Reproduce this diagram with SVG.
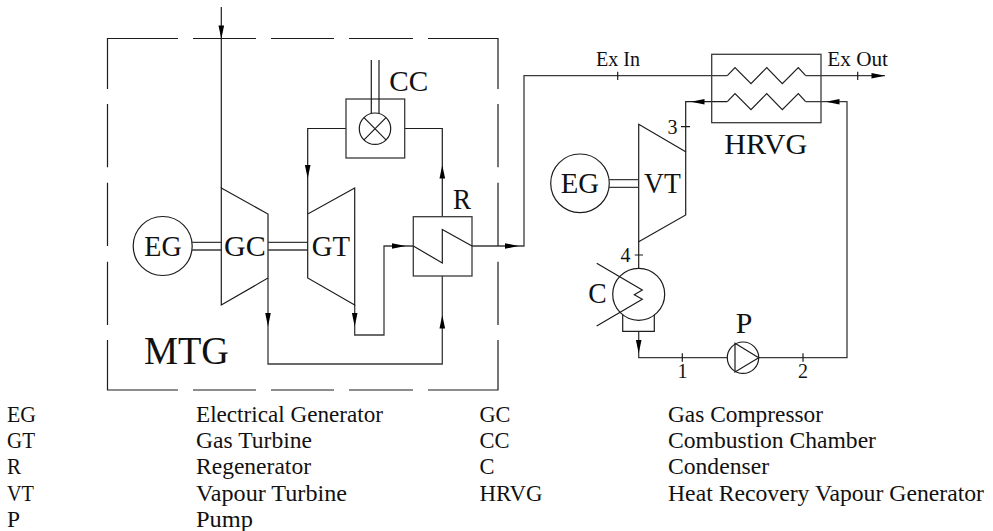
<svg xmlns="http://www.w3.org/2000/svg" xmlns:xlink="http://www.w3.org/1999/xlink" width="993" height="531" viewBox="0 0 993 531">
<style>
.l{fill:none;stroke:#1c1c1c;stroke-width:1.2}
.g{fill:none;stroke:#3a3a3a;stroke-width:1.3}
text{font-family:"Liberation Serif","Times New Roman",serif;fill:#111}
.lg{font-size:22.5px}
.big{font-size:29px}
.med{font-size:20px}
.ar{fill:#000}
</style>
<defs><path id="a" class="ar" d="M0 0L-13.5-2.8L-13.5 2.8Z"/></defs>
<rect width="993" height="531" fill="#fff"/>
<g id="connectors">
<path class="l" d="M221.3 7V188"/>
<path class="l" d="M346 128.5H307.7V214"/>
<path class="l" d="M404.7 128.5H442.3V216.7"/>
<path class="g" d="M354.7 305V335H384V246H413.3"/>
<path class="g" d="M268 278V364H442.3V276"/>
<path class="g" d="M472 246H524V75.7H727.3"/>
<path class="g" d="M805.7 75.7H885"/>
<path class="g" d="M805.7 101.7H847V357.7H758.7"/>
<path class="l" d="M727.3 101.7H685.7V151.7"/>
<path class="l" d="M638.7 241.7V268.3"/>
<path class="g" d="M638.7 331.3V357.7H727.3"/>
<path class="l" d="M617.7 71.7V80M857.7 71.7V80M681 126.7H690M634.7 255H643M682.3 353.3V361.7M803 353.3V361.7"/>
<use xlink:href="#a" href="#a" transform="translate(221.3 39) rotate(90)"/>
<use xlink:href="#a" href="#a" transform="translate(307.7 178.5) rotate(90)"/>
<use xlink:href="#a" href="#a" transform="translate(442.3 165) rotate(-90)"/>
<use xlink:href="#a" href="#a" transform="translate(405.5 246)"/>
<use xlink:href="#a" href="#a" transform="translate(354.7 326.5) rotate(90)"/>
<use xlink:href="#a" href="#a" transform="translate(268 326.5) rotate(90)"/>
<use xlink:href="#a" href="#a" transform="translate(442.3 315) rotate(-90)"/>
<use xlink:href="#a" href="#a" transform="translate(518.5 246)"/>
<use xlink:href="#a" href="#a" transform="translate(885 75.7)"/>
<use xlink:href="#a" href="#a" transform="translate(826 101.7) rotate(180)"/>
<use xlink:href="#a" href="#a" transform="translate(691 101.7) rotate(180)"/>
<use xlink:href="#a" href="#a" transform="translate(638.7 353.5) rotate(90)"/>
</g>
<g id="MTG">
<path class="l" d="M178 38.5H107.5V89M107.5 104V167.3M107.5 182.7V246M107.5 261.7V325M107.5 340V390H178M193 390H256M271 390H334M349 390H413M428 390H498V340M498 325V261.7M498 246V182.7M498 167.3V104M498 89V38.5H428M413 38.5H349M334 38.5H271M256 38.5H193"/>
<text x="144" y="364" font-size="39" textLength="85" lengthAdjust="spacingAndGlyphs">MTG</text>
</g>
<g id="EG1">
<circle class="l" cx="162.7" cy="246" r="29.5"/>
<path class="g" d="M192 242.3H221.3M192 250H221.3"/>
<text class="big" x="144.3" y="256" textLength="37.4" lengthAdjust="spacingAndGlyphs">EG</text>
</g>
<g id="GC">
<path class="l" d="M221.3 188L268 214V278L221.3 305Z"/>
<path class="g" d="M268 242.3H307.7M268 250H307.7"/>
<text class="big" x="224" y="256" textLength="41.7" lengthAdjust="spacingAndGlyphs">GC</text>
</g>
<g id="GT">
<path class="l" d="M354.7 188L307.7 214V278L354.7 305Z"/>
<text class="big" x="311.7" y="256" textLength="38.3" lengthAdjust="spacingAndGlyphs">GT</text>
</g>
<g id="CC">
<rect class="g" x="346" y="99" width="58.7" height="59"/>
<circle class="l" cx="375" cy="128.7" r="15.7"/>
<path class="l" d="M364 117.6L386 139.8M386 117.6L364 139.8"/>
<path class="l" d="M371.3 60V113.5M379 60V113.5"/>
<text class="big" x="389.3" y="90.7" textLength="39" lengthAdjust="spacingAndGlyphs">CC</text>
</g>
<g id="R">
<rect class="g" x="413.3" y="216.7" width="58.7" height="59.3"/>
<path class="l" d="M413.3 246L442.3 263V229.5L472 246"/>
<text class="big" x="453" y="209" textLength="18" lengthAdjust="spacingAndGlyphs">R</text>
</g>
<g id="HRVG">
<rect class="g" x="711.7" y="54.3" width="109.3" height="68.4"/>
<path class="l" d="M727.3 75.7L735 67.7L751 83.7L766.7 67.7L782.3 83.7L798.3 67.7L805.7 75.7"/>
<path class="l" d="M727.3 101.7L735 93.7L751 109.7L766.7 93.7L782.3 109.7L798.3 93.7L805.7 101.7"/>
<text class="big" x="724.3" y="154" textLength="83" lengthAdjust="spacingAndGlyphs">HRVG</text>
</g>
<g id="VT">
<path class="l" d="M685.7 151.7L638.7 124.3V241.7L685.7 215Z"/>
<text class="big" x="644" y="193.3" textLength="36.7" lengthAdjust="spacingAndGlyphs">VT</text>
</g>
<g id="EG2">
<circle class="l" cx="580" cy="183.3" r="29.3"/>
<path class="g" d="M609 179.7H638.7M609 187.3H638.7"/>
<text class="big" x="560.7" y="193.3" textLength="38.3" lengthAdjust="spacingAndGlyphs">EG</text>
</g>
<g id="C">
<circle class="l" cx="638.7" cy="294.3" r="26"/>
<path class="l" d="M596.7 263.3L642.3 290L634.3 294.7L642.3 299.3L596.7 326"/>
<path class="l" d="M622.7 315V331.3H654.3V315"/>
<text class="big" x="588.3" y="303.3" textLength="18.4" lengthAdjust="spacingAndGlyphs">C</text>
</g>
<g id="P">
<circle class="l" cx="743" cy="357.7" r="15.7"/>
<path class="l" d="M735 343.3L758.7 357.7L735 372Z"/>
<text class="big" x="735.7" y="332.7" textLength="16.6" lengthAdjust="spacingAndGlyphs">P</text>
</g>
<g id="labels">
<text class="med" x="596" y="66" textLength="44" lengthAdjust="spacingAndGlyphs">Ex In</text>
<text class="med" x="827.3" y="66" textLength="60.7" lengthAdjust="spacingAndGlyphs">Ex Out</text>
<text class="med" x="667.5" y="134">3</text>
<text class="med" x="620.5" y="261.7">4</text>
<text class="med" x="677.5" y="378.3">1</text>
<text class="med" x="798" y="378.3">2</text>
</g>
<g id="legend">
<text class="lg" x="7" y="421.5" textLength="29" lengthAdjust="spacingAndGlyphs">EG</text>
<text class="lg" x="7" y="447.5" textLength="28" lengthAdjust="spacingAndGlyphs">GT</text>
<text class="lg" x="7" y="474" textLength="14" lengthAdjust="spacingAndGlyphs">R</text>
<text class="lg" x="7" y="501" textLength="27" lengthAdjust="spacingAndGlyphs">VT</text>
<text class="lg" x="7" y="527" textLength="13" lengthAdjust="spacingAndGlyphs">P</text>
<text class="lg" x="196" y="421.5" textLength="187" lengthAdjust="spacingAndGlyphs">Electrical Generator</text>
<text class="lg" x="196" y="447.5" textLength="116" lengthAdjust="spacingAndGlyphs">Gas Turbine</text>
<text class="lg" x="196" y="474" textLength="115" lengthAdjust="spacingAndGlyphs">Regenerator</text>
<text class="lg" x="196" y="501" textLength="151" lengthAdjust="spacingAndGlyphs">Vapour Turbine</text>
<text class="lg" x="196" y="527" textLength="57" lengthAdjust="spacingAndGlyphs">Pump</text>
<text class="lg" x="479.5" y="421.5" textLength="31" lengthAdjust="spacingAndGlyphs">GC</text>
<text class="lg" x="479.5" y="447.5" textLength="30" lengthAdjust="spacingAndGlyphs">CC</text>
<text class="lg" x="479.5" y="474" textLength="15" lengthAdjust="spacingAndGlyphs">C</text>
<text class="lg" x="479.5" y="501" textLength="63" lengthAdjust="spacingAndGlyphs">HRVG</text>
<text class="lg" x="668" y="421.5" textLength="155" lengthAdjust="spacingAndGlyphs">Gas Compressor</text>
<text class="lg" x="668" y="447.5" textLength="208" lengthAdjust="spacingAndGlyphs">Combustion Chamber</text>
<text class="lg" x="668" y="474" textLength="101" lengthAdjust="spacingAndGlyphs">Condenser</text>
<text class="lg" x="668" y="501" textLength="316" lengthAdjust="spacingAndGlyphs">Heat Recovery Vapour Generator</text>
</g>
</svg>
